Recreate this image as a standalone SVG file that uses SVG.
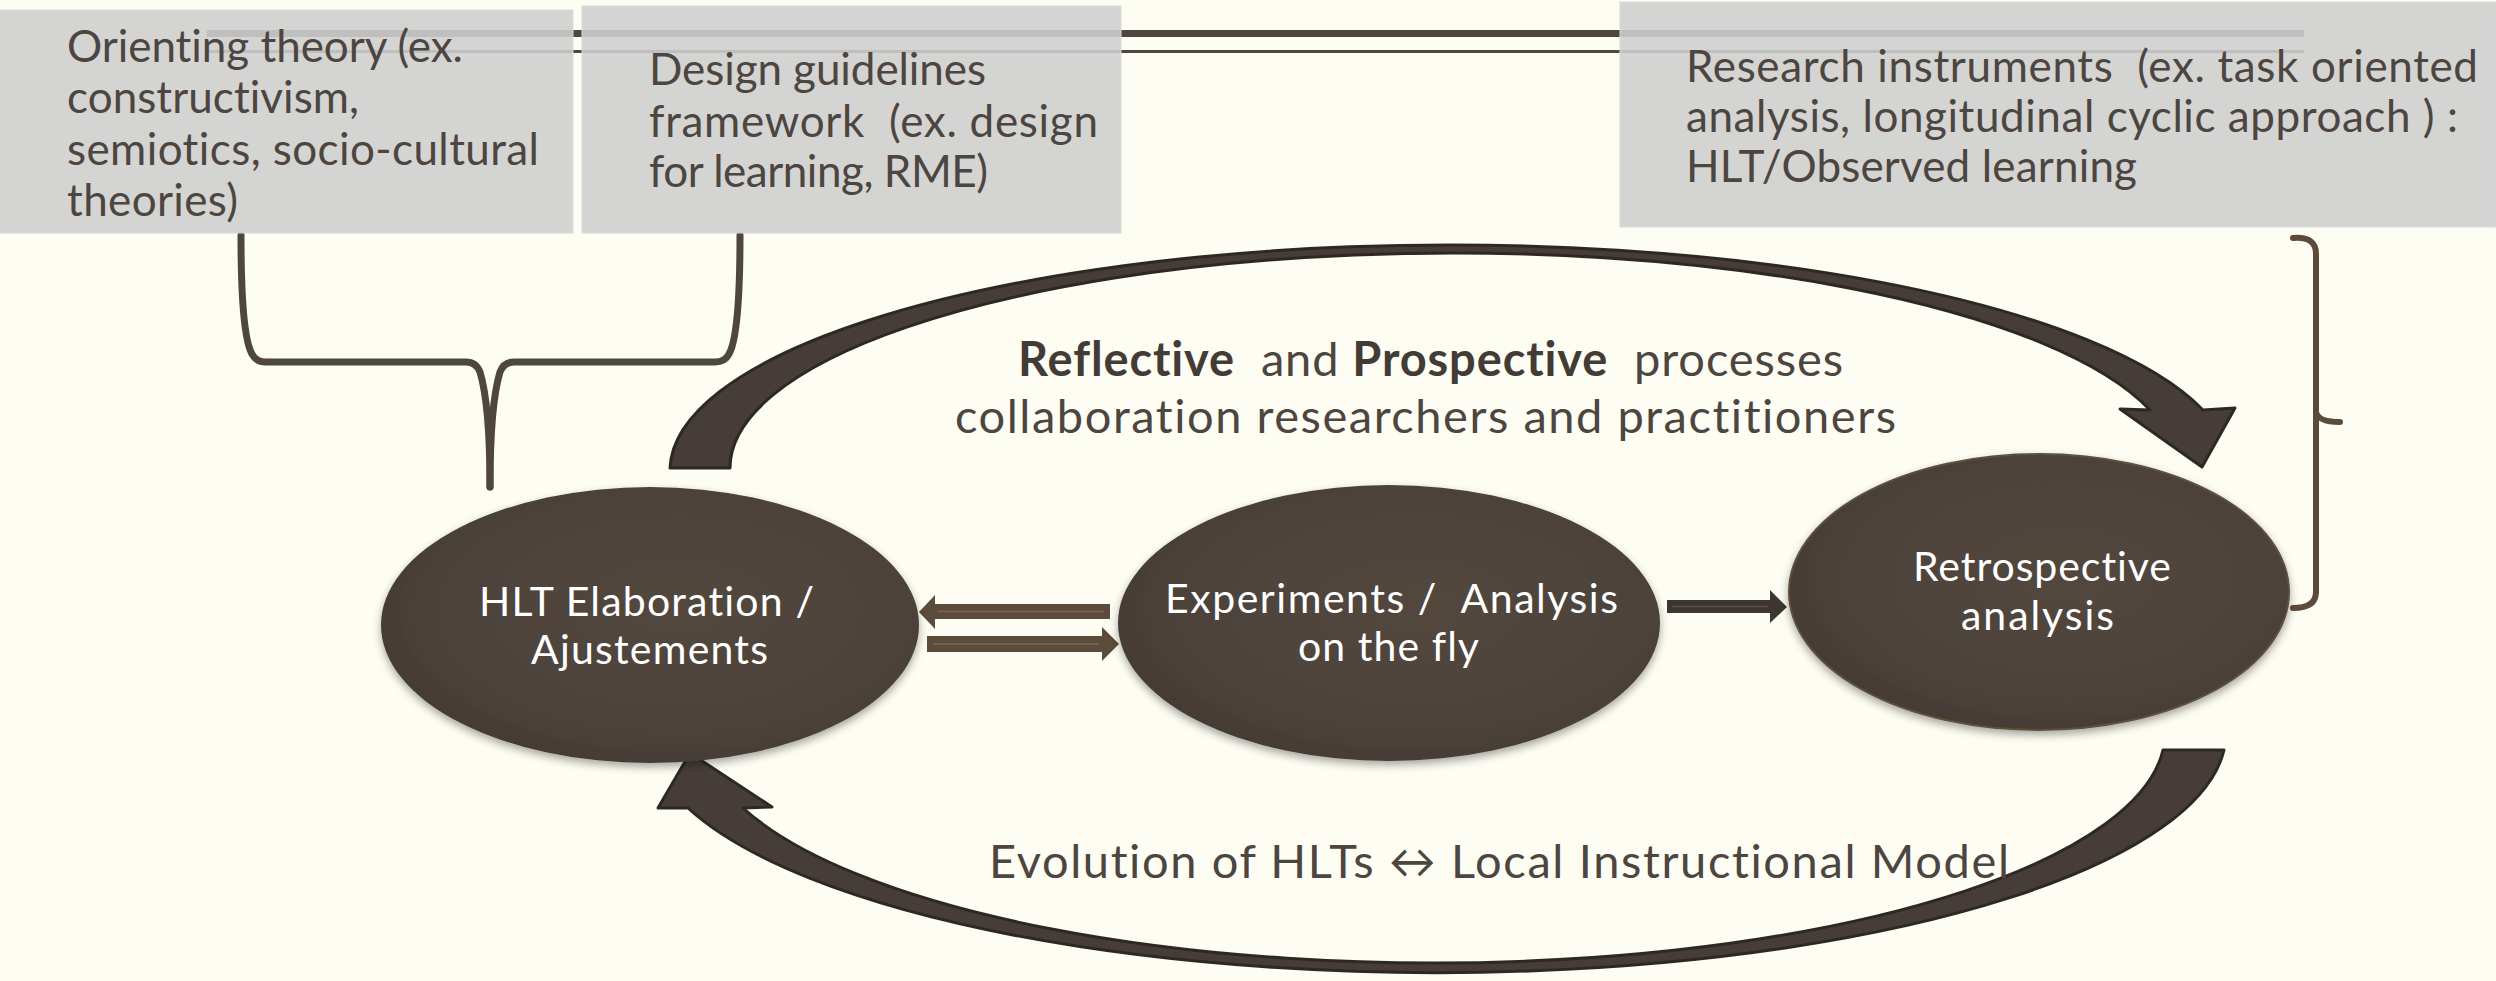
<svg xmlns="http://www.w3.org/2000/svg" width="2496" height="981" viewBox="0 0 2496 981">
<style>
text{font-variant-ligatures:none;font-feature-settings:"liga" 0,"clig" 0}
.box{fill:#cfcfcf;fill-opacity:0.89;stroke:#dadada;stroke-width:1}
.bt{font-family:Lato,"Liberation Sans",sans-serif;font-size:44px;fill:#4d4540}
.et{font-family:Lato,"Liberation Sans",sans-serif;font-size:41px;fill:#ffffff;text-anchor:start}
.ct{font-family:Lato,"Liberation Sans",sans-serif;font-size:47px;fill:#4d4540}
.b{fill:#433b35;font-weight:bold}
.ell{fill:url(#eg);filter:url(#sh)}
.arc{fill:#463d38;stroke:#2e2825;stroke-width:3;stroke-linejoin:round}
.brace{fill:none;stroke:#4f4640;stroke-width:7;stroke-linecap:round;stroke-linejoin:round}
.bracket{fill:none;stroke:#5c4b39;stroke-width:6;stroke-linecap:round;stroke-linejoin:round}
.sa{fill:#5b4c3b}
.sl{stroke:#77684f;stroke-width:1.5}
</style>
<defs>
<radialGradient id="eg" cx="55%" cy="45%" r="60%">
<stop offset="0" stop-color="#52473e"/>
<stop offset="0.7" stop-color="#4d433b"/>
<stop offset="1" stop-color="#433a34"/>
</radialGradient>
<filter id="sh" x="-10%" y="-10%" width="120%" height="130%">
<feDropShadow dx="0" dy="4" stdDeviation="4" flood-color="#000" flood-opacity="0.35"/>
</filter>
</defs>
<rect x="0" y="0" width="2496" height="981" fill="#fdfdf3"/>

<g id="connectors">
<rect x="207" y="30" width="2097" height="7" fill="#4f4640"/>
<rect x="207" y="50" width="2097" height="3" fill="#4f4640"/>
<path class="brace" d="M241,235 C241,300 244,340 252,354 Q256,362 266,362 L466,362 Q476,362 480,372 C486,392 490,430 490,487"/>
<path class="brace" d="M740,235 C740,300 737,340 729,354 Q725,362 715,362 L514,362 Q504,362 500,372 C494,392 490,430 490,487"/>
<path class="bracket" d="M2293,238 Q2316,236 2316,254 L2316,592 Q2316,608 2293,608"/>
<path class="bracket" d="M2316,412 Q2318,422 2340,422"/>
<path class="arc" d="M670,468 A781 226 0 0 1 2203,410 L2235,408 L2202,467 L2120,409 L2150,410 A723.4 215 0 0 0 730,468 Z"/>
<path class="arc" d="M2163,750 L2224,750 A789 240 0 0 1 688,808 L658,808 L690,753 L772,807 L743,808 A731 230 0 0 0 2163,750 Z"/>
<polygon class="sa" points="1110,604 935,604 935,595 919,612 935,629 935,619 1110,619"/>
<line class="sl" x1="938" y1="611.5" x2="1104" y2="611.5"/>
<polygon class="sa" points="927,636 1102,636 1102,627 1119,644 1102,661 1102,652 927,652"/>
<line class="sl" x1="933" y1="644" x2="1099" y2="644"/>
<polygon fill="#3d3532" points="1667,600 1770,600 1770,590 1787,607 1770,623 1770,613 1667,613"/>
<line x1="1672" y1="606.5" x2="1768" y2="606.5" stroke="#5a504a" stroke-width="1.5"/>
</g>

<g id="node-orienting">
<rect class="box" x="0" y="10" width="573" height="223"/>
<text class="bt" x="67" y="62" textLength="396" lengthAdjust="spacing">Orienting theory (ex.</text>
<text class="bt" x="67" y="113" textLength="292" lengthAdjust="spacing">constructivism,</text>
<text class="bt" x="67" y="165" textLength="472" lengthAdjust="spacing">semiotics, socio-cultural</text>
<text class="bt" x="67" y="216" textLength="171" lengthAdjust="spacing">theories)</text>
</g>

<g id="node-design">
<rect class="box" x="582" y="6" width="539" height="227"/>
<text class="bt" x="649" y="85" textLength="337" lengthAdjust="spacing">Design guidelines</text>
<text class="bt" x="649" y="137" textLength="449" lengthAdjust="spacing" xml:space="preserve">framework  (ex. design</text>
<text class="bt" x="649" y="187" textLength="339" lengthAdjust="spacing">for learning, RME)</text>
</g>

<g id="node-research">
<rect class="box" x="1620" y="2" width="876" height="225"/>
<text class="bt" x="1686" y="82" textLength="792" lengthAdjust="spacing" xml:space="preserve">Research instruments  (ex. task oriented</text>
<text class="bt" x="1686" y="132" textLength="772" lengthAdjust="spacing">analysis, longitudinal cyclic approach ) :</text>
<text class="bt" x="1686" y="182" textLength="451" lengthAdjust="spacing">HLT/Observed learning</text>
</g>

<g id="label-reflective">
<text class="ct" x="1018" y="376" textLength="825" lengthAdjust="spacing" xml:space="preserve"><tspan class="b">Reflective</tspan>  and <tspan class="b">Prospective</tspan>  processes</text>
<text class="ct" x="955" y="433" textLength="941" lengthAdjust="spacing">collaboration researchers and practitioners</text>
</g>

<g id="node-hlt">
<ellipse class="ell" cx="650" cy="625" rx="269" ry="138"/>
<text class="et" x="479" y="616" textLength="335" lengthAdjust="spacing">HLT Elaboration /</text>
<text class="et" x="531" y="664" textLength="237" lengthAdjust="spacing">Ajustements</text>
</g>

<g id="node-experiments">
<ellipse class="ell" cx="1389" cy="623" rx="271" ry="138"/>
<text class="et" x="1165" y="613" textLength="453" lengthAdjust="spacing" xml:space="preserve">Experiments /  Analysis</text>
<text class="et" x="1298" y="661" textLength="181" lengthAdjust="spacing">on the fly</text>
</g>

<g id="node-retro">
<ellipse class="ell" cx="2039" cy="592" rx="250" ry="138" stroke="#5e4f3e" stroke-width="2"/>
<text class="et" x="1913" y="581" textLength="258" lengthAdjust="spacing">Retrospective</text>
<text class="et" x="1961" y="630" textLength="153" lengthAdjust="spacing">analysis</text>
</g>

<g id="label-evolution">
<text class="ct" x="989" y="878" font-size="46" textLength="1020" lengthAdjust="spacing" fill="#4a423c">Evolution of HLTs ↔ Local Instructional Model</text>
</g>
</svg>
